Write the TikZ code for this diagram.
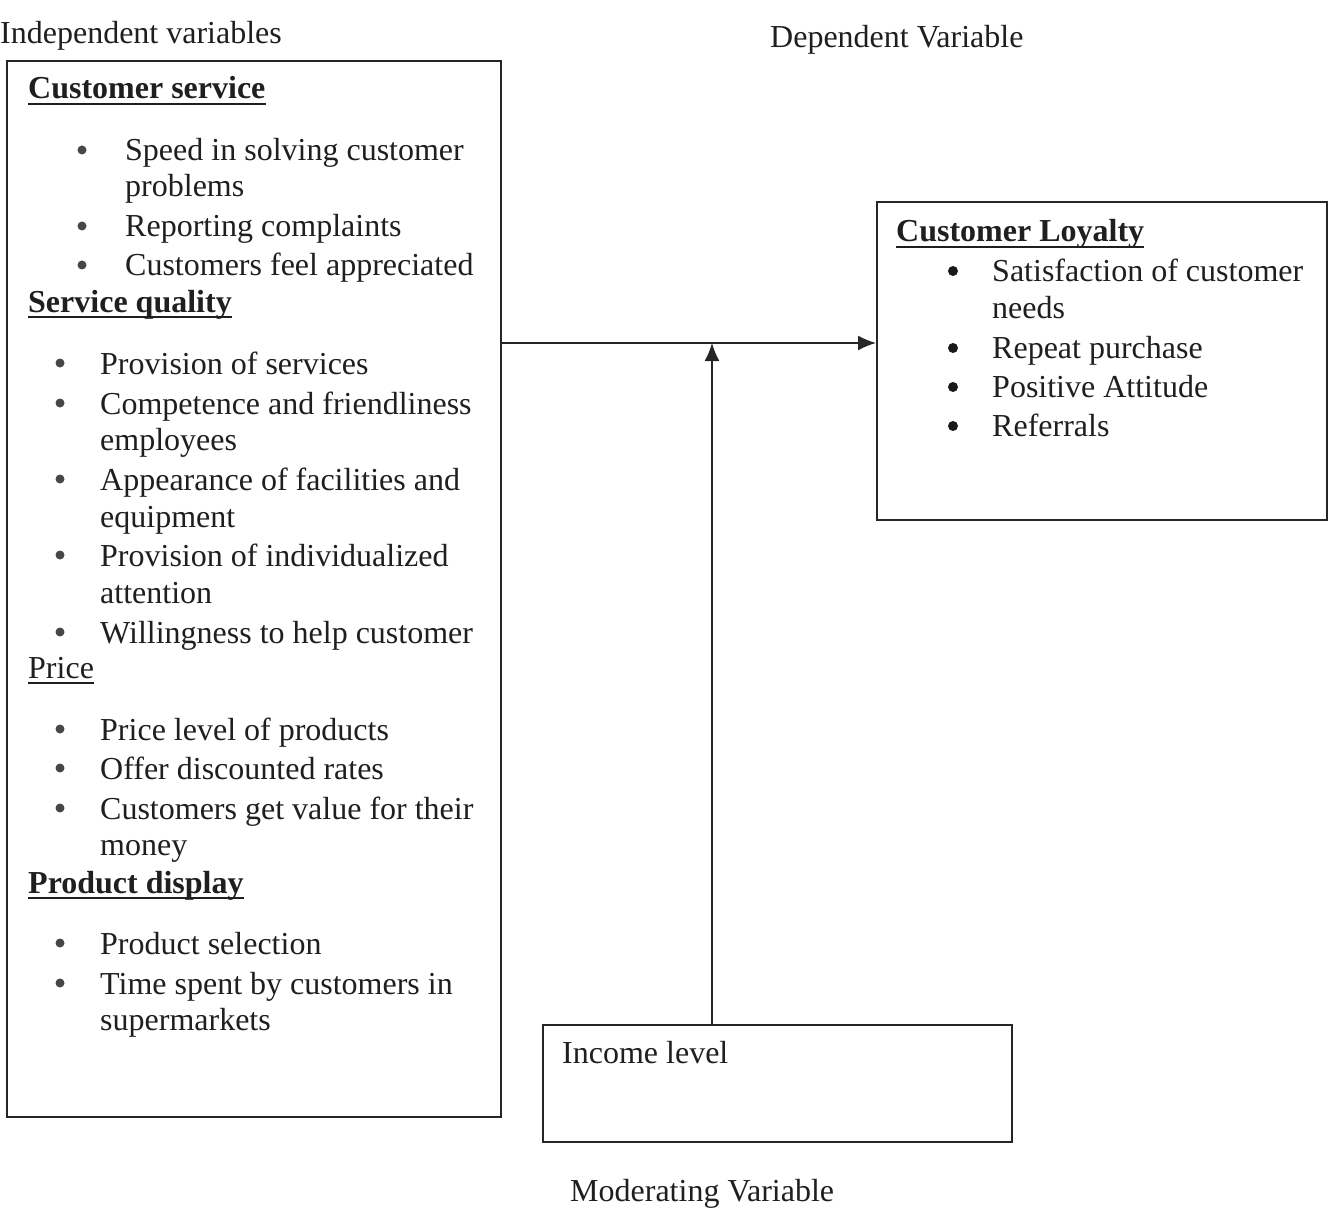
\documentclass[tikz,border=0pt]{standalone}
\usepackage{fontspec}
\setmainfont{Liberation Serif}
\usetikzlibrary{arrows.meta}
\begin{document}
\begin{tikzpicture}[x=1pt,y=-1pt,
  every node/.style={font=\fontsize{32}{38}\selectfont, text=black!88},
  frame/.style={draw=black!85, line width=1.6pt, rectangle, inner sep=0, anchor=north west},
  txt/.style={anchor=base west, inner sep=0},
  hd/.style={anchor=base west, inner sep=0, font=\fontsize{32}{38}\selectfont\bfseries},
  dot/.style={circle, fill=black!72, inner sep=0, minimum size=9pt},
  rdot/.style={circle, fill=black!90, inner sep=0, minimum size=10pt},
  uln/.style={draw=black!88, line width=2.2pt},
  conn/.style={draw=black!85, line width=1.6pt, -{Latex[length=18pt,width=15pt]}}]
\useasboundingbox (0,0) rectangle (1331,1209);
\fill[white] (0,0) rectangle (1331,1209);

% boxes
\node[frame, minimum width=494pt, minimum height=1056pt] (ind) at (6,60) {};
\node[frame, minimum width=450pt, minimum height=318pt] (dep) at (876,201) {};
\node[frame, minimum width=469pt, minimum height=117pt] (mod) at (542,1024) {};

% titles
\node[txt] (tind) at (0,44) {Independent variables};
\node[txt] (tdep) at (770,48) {Dependent Variable};
\node[txt] (tmod) at (570,1201) {Moderating Variable};

% left box content
\node[hd] (h1) at (28,99) {Customer service};
\node[dot] (b11) at (82,150) {};
\node[txt] (l11) at (125,161) {Speed in solving customer};
\node[txt] (l11b) at (125,197) {problems};
\node[dot] (b12) at (82,226) {};
\node[txt] (l12) at (125,237) {Reporting complaints};
\node[dot] (b13) at (82,265) {};
\node[txt] (l13) at (125,276) {Customers feel appreciated};

\node[hd] (h2) at (28,312) {Service quality};
\node[dot] (b21) at (60,363) {};
\node[txt] (l21) at (100,374) {Provision of services};
\node[dot] (b22) at (60,403) {};
\node[txt] (l22) at (100,414) {Competence and friendliness};
\node[txt] (l22b) at (100,450) {employees};
\node[dot] (b23) at (60,479) {};
\node[txt] (l23) at (100,490) {Appearance of facilities and};
\node[txt] (l23b) at (100,527) {equipment};
\node[dot] (b24) at (60,555) {};
\node[txt] (l24) at (100,566) {Provision of individualized};
\node[txt] (l24b) at (100,603) {attention};
\node[dot] (b25) at (60,632) {};
\node[txt] (l25) at (100,643) {Willingness to help customer};

\node[txt] (h3) at (28,678) {Price};
\node[dot] (b31) at (60,729) {};
\node[txt] (l31) at (100,740) {Price level of products};
\node[dot] (b32) at (60,768) {};
\node[txt] (l32) at (100,779) {Offer discounted rates};
\node[dot] (b33) at (60,808) {};
\node[txt] (l33) at (100,819) {Customers get value for their};
\node[txt] (l33b) at (100,855) {money};

\node[hd] (h4) at (28,893) {Product display};
\node[dot] (b41) at (60,943) {};
\node[txt] (l41) at (100,954) {Product selection};
\node[dot] (b42) at (60,983) {};
\node[txt] (l42) at (100,994) {Time spent by customers in};
\node[txt] (l42b) at (100,1030) {supermarkets};

% right box content
\node[hd] (hr) at (896,242) {Customer Loyalty};
\node[rdot] (r1) at (953,271) {};
\node[txt] (rt1) at (992,282) {Satisfaction of customer};
\node[txt] (rt1b) at (992,318) {needs};
\node[rdot] (r2) at (953,348) {};
\node[txt] (rt2) at (992,358) {Repeat purchase};
\node[rdot] (r3) at (953,387) {};
\node[txt] (rt3) at (992,397) {Positive Attitude};
\node[rdot] (r4) at (953,426) {};
\node[txt] (rt4) at (992,436) {Referrals};

% moderating box content
\node[txt] (inc) at (562,1063) {Income level};

% underlines of headings
\foreach \h in {h1,h2,h3,h4,hr}
  \draw[uln] ([yshift=-5pt]\h.base west) -- ([yshift=-5pt]\h.base east);

% connectors
\coordinate (j) at (712,343);
\draw[conn] (ind.east |- j) -- (dep.west |- j);
\draw[conn] (mod.north -| j) -- (j);
\end{tikzpicture}
\end{document}
